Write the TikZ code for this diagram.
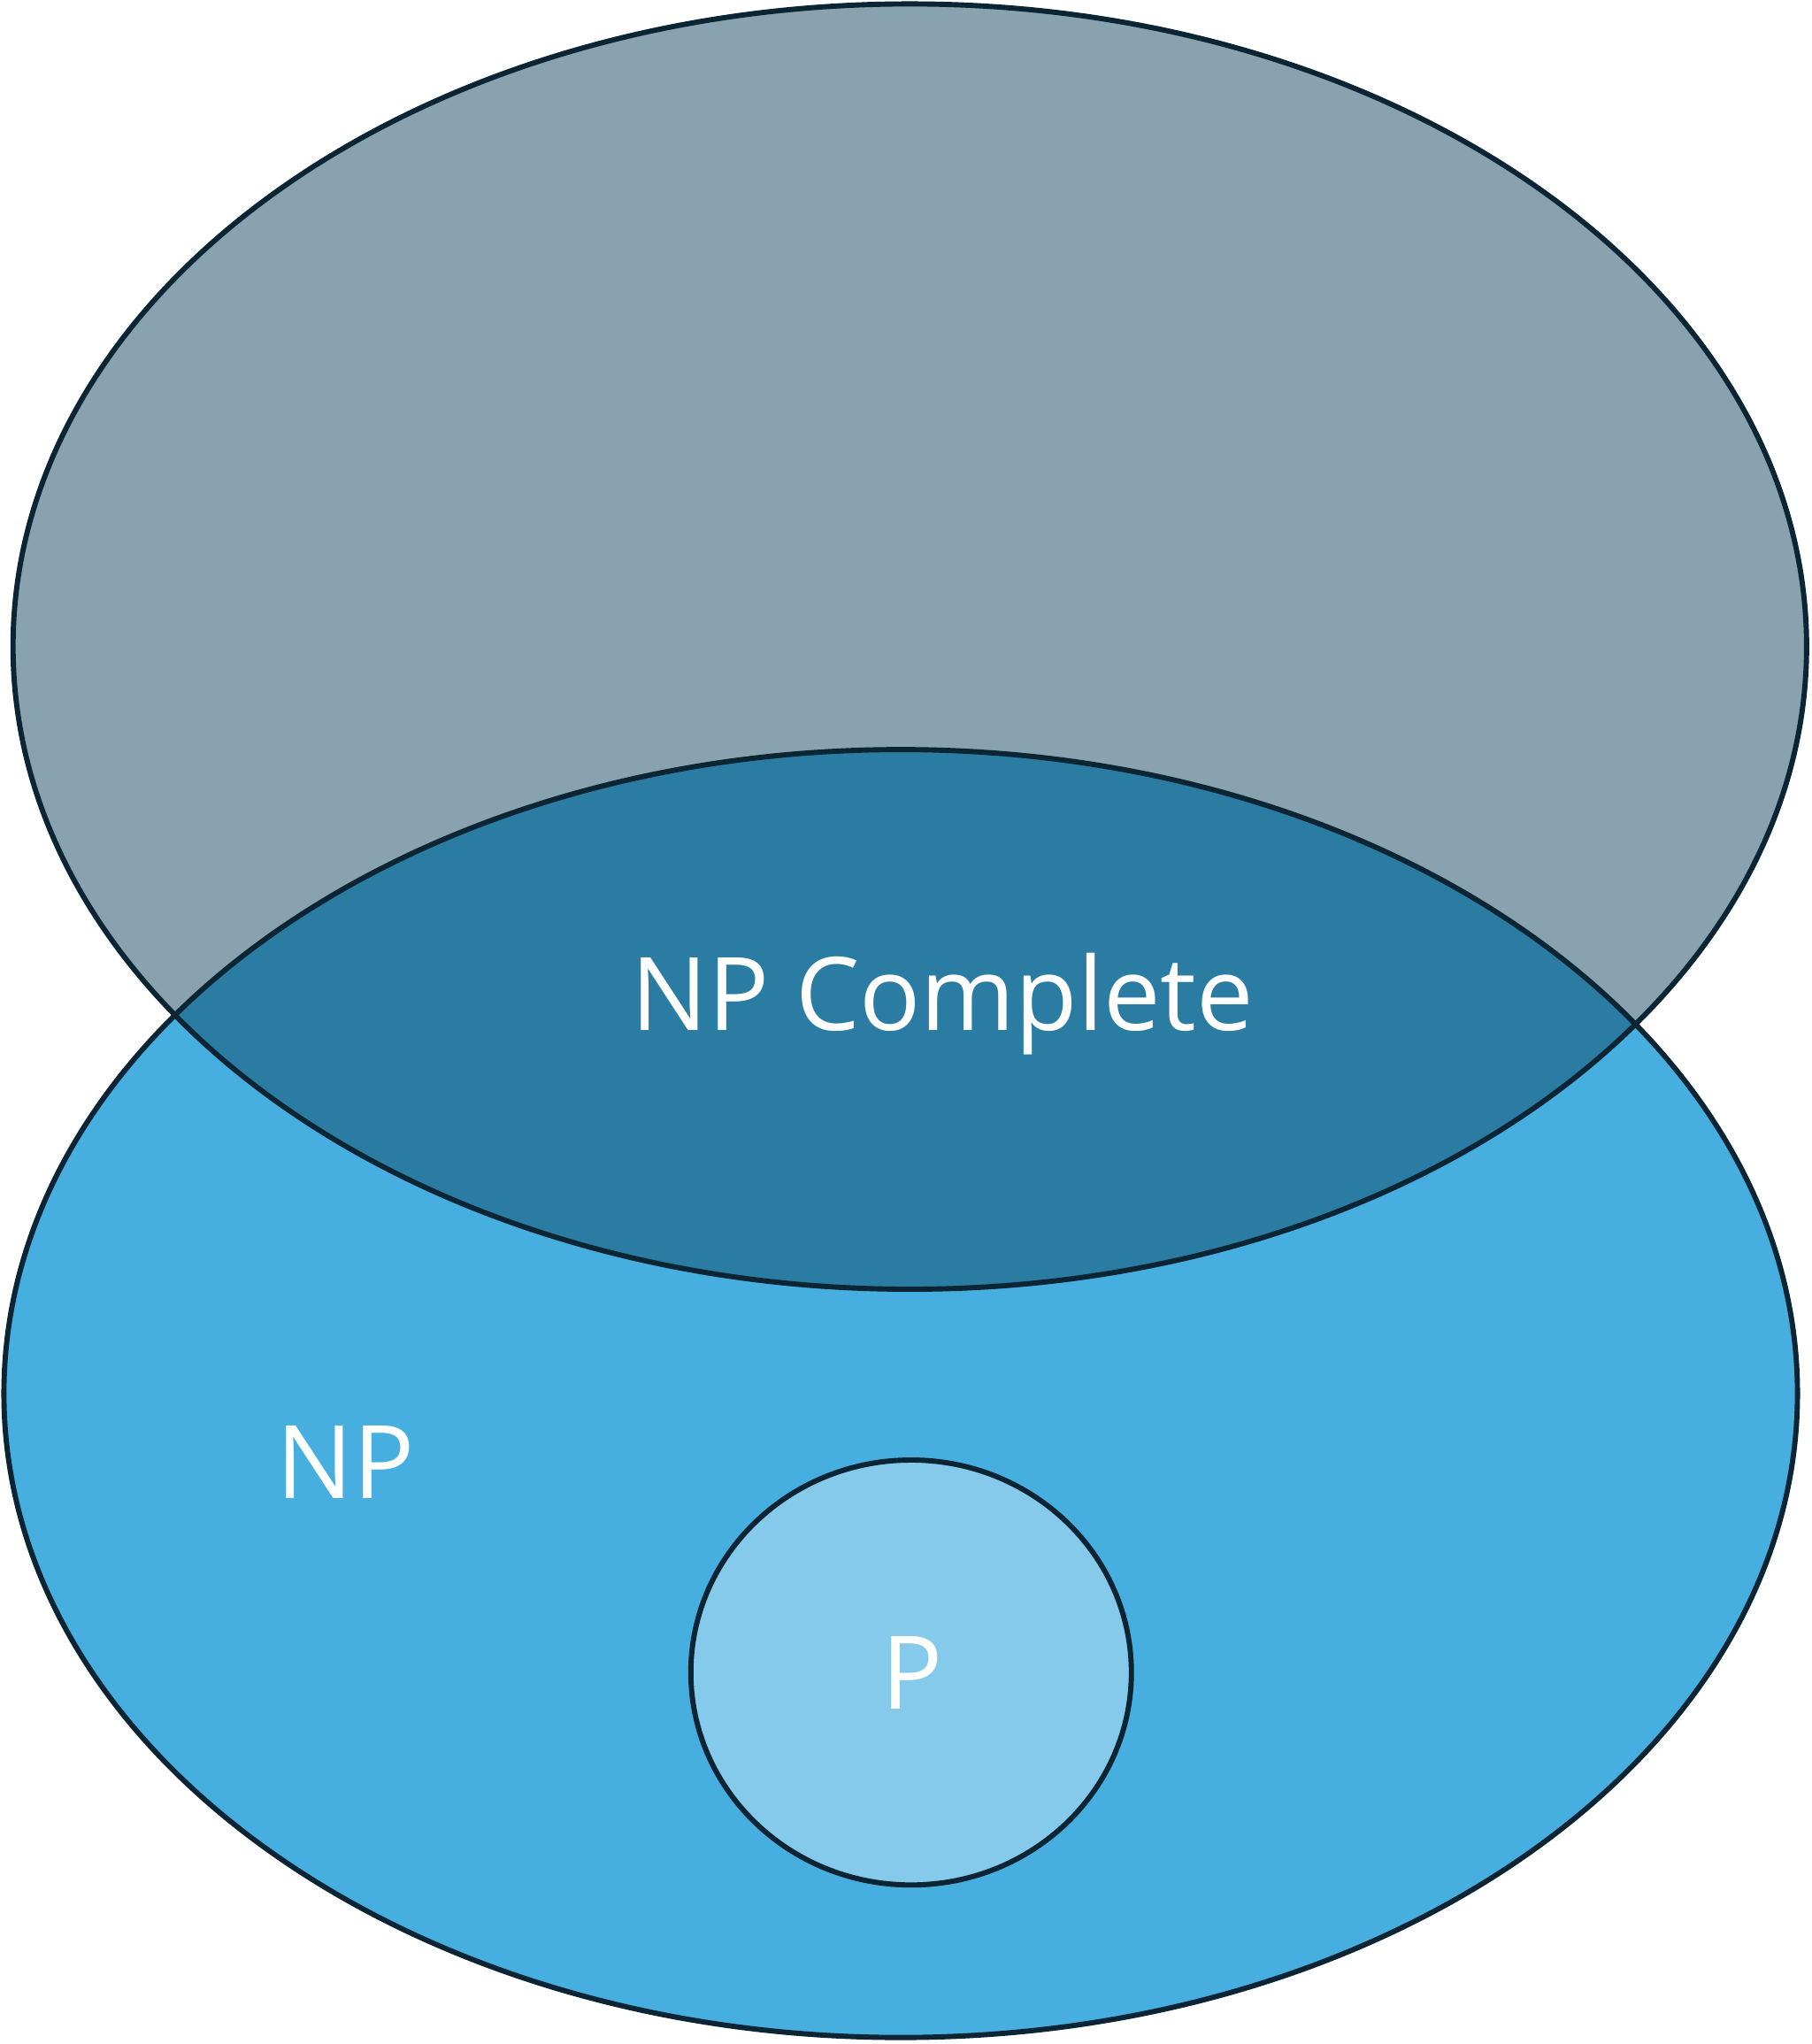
\documentclass[tikz,border=0pt]{standalone}
\usepackage{fontspec}
\setmainfont{Open Sans}
\usetikzlibrary{shapes.geometric}
\definecolor{topc}{HTML}{88A3AF}
\definecolor{botc}{HTML}{47AFDF}
\definecolor{midc}{HTML}{2A7CA2}
\definecolor{pc}{HTML}{85C9EB}
\definecolor{edge}{HTML}{0B2535}
\tikzset{outl/.style={draw=edge,line width=4pt},
lab/.style={text=white,font=\fontsize{78}{80}\selectfont,inner sep=0pt}}
\begin{document}
\begin{tikzpicture}[x=1pt,y=-1pt]
\useasboundingbox (0,0) rectangle (1390,1568);
\fill[botc] (691,1069) ellipse [x radius=688,y radius=494];
\fill[topc] (698,496) ellipse [x radius=688,y radius=493];
\begin{scope}
\clip (691,1069) ellipse [x radius=688,y radius=494];
\fill[midc] (698,496) ellipse [x radius=688,y radius=493];
\end{scope}
\draw[outl] (691,1069) ellipse [x radius=688,y radius=494];
\draw[outl] (698,496) ellipse [x radius=688,y radius=493];
\node[outl,fill=pc,ellipse,minimum width=338,minimum height=326,inner sep=0pt] (p) at (699,1283) {};
\node[lab] (pl) at (700,1283) {P};
\node[lab] (np) at (265,1122) {NP};
\node[lab] (npc) at (723,770) {NP Complete};
\end{tikzpicture}
\end{document}
